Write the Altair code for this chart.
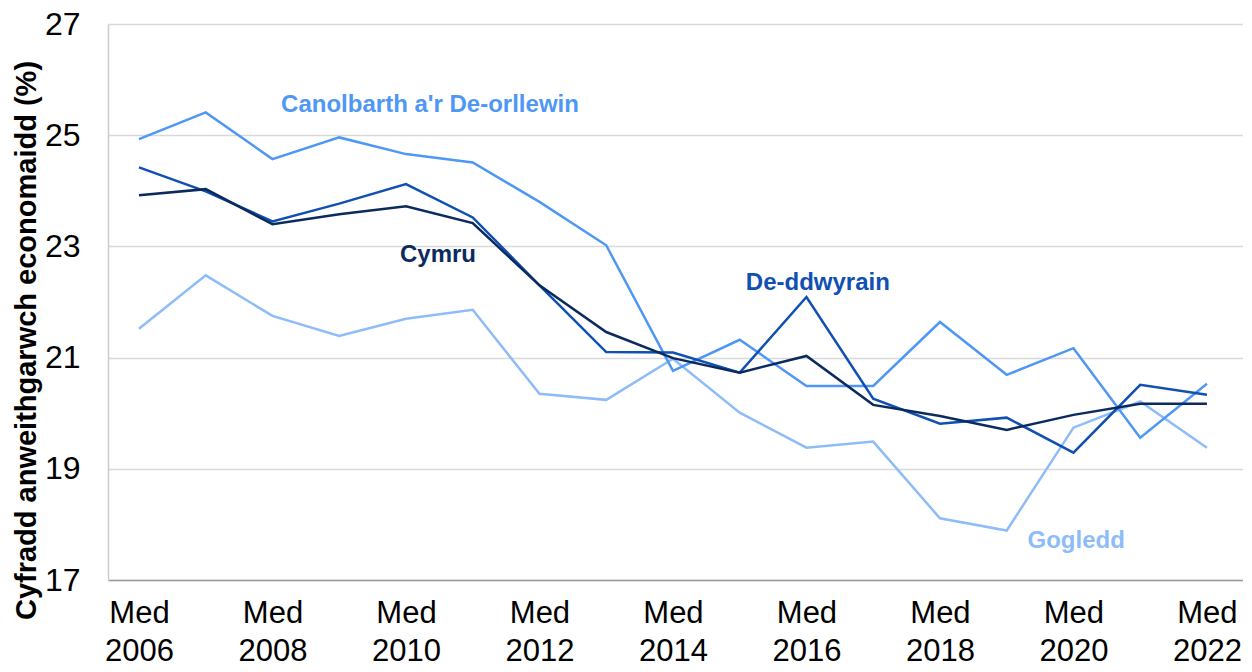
import altair as alt
import pandas as pd

years = list(range(2006, 2023))
canolbarth = [24.93, 25.41, 24.57, 24.96, 24.66, 24.51, 23.80, 23.02, 20.76, 21.32, 20.49, 20.49, 21.64, 20.69, 21.17, 19.56, 20.53]
gogledd = [21.52, 22.48, 21.75, 21.39, 21.70, 21.86, 20.35, 20.24, 20.98, 20.01, 19.38, 19.49, 18.11, 17.89, 19.74, 20.21, 19.38]
deddwyrain = [24.42, 23.99, 23.45, 23.77, 24.12, 23.52, 22.30, 21.10, 21.09, 20.73, 22.09, 20.26, 19.81, 19.92, 19.29, 20.51, 20.33]
cymru = [23.92, 24.03, 23.40, 23.58, 23.72, 23.42, 22.30, 21.46, 20.99, 20.73, 21.03, 20.15, 19.95, 19.70, 19.97, 20.17, 20.17]

series_names = ["Gogledd", "Canolbarth a'r De-orllewin", "De-ddwyrain", "Cymru"]
series_vals = [gogledd, canolbarth, deddwyrain, cymru]
series_colors = ["#8ebcf8", "#4f97f5", "#1050b2", "#0b2a5e"]

label_text = ["Canolbarth a'r De-orllewin", "Cymru", "De-ddwyrain", "Gogledd"]
label_x = [2010.36, 2010.48, 2016.17, 2020.04]
label_y = [25.54, 22.84, 22.34, 17.71]

rows = []
for name, vals in zip(series_names, series_vals):
    for yr, v in zip(years, vals):
        rows.append({"year": yr, "value": v, "series": name})
df = pd.DataFrame(rows)

lab = pd.DataFrame({"text": label_text, "x": label_x, "y": label_y, "series": label_text})

xscale = alt.Scale(domain=[2005.536, 2022.54], nice=False, zero=False)
yscale = alt.Scale(domain=[17, 27], nice=False, zero=False)
color = alt.Color("series:N", scale=alt.Scale(domain=series_names, range=series_colors), legend=None)

lines = alt.Chart(df).mark_line(strokeWidth=2.5).encode(
    x=alt.X("year:Q", scale=xscale,
            axis=alt.Axis(values=list(range(2006, 2023, 2)), labelExpr="['Med', datum.value]",
                          title=None, grid=False, ticks=False, domainColor="#9a9a9a", domainWidth=1.5,
                          labelFontSize=31, labelFont="Liberation Sans", labelColor="#000000",
                          labelPadding=18, labelLineHeight=38, labelFlush=False, labelOverlap=False)),
    y=alt.Y("value:Q", scale=yscale,
            axis=alt.Axis(values=[17, 19, 21, 23, 25, 27], title="Cyfradd anweithgarwch economaidd (%)",
                          grid=True, gridColor="#d9d9d9", gridWidth=1.5, ticks=False,
                          domainColor="#cccccc", domainWidth=1.5,
                          labelFontSize=32, labelFont="Liberation Sans", labelColor="#000000",
                          labelPadding=28, titleFontSize=29, titleFont="Liberation Sans",
                          titleFontWeight="bold", titleColor="#000000",
                          titleX=-82, titleY=316, titleAngle=270, titleAlign="center",
                          titleBaseline="middle")),
    color=color,
    detail="series:N",
)

texts = alt.Chart(lab).mark_text(font="Liberation Sans", fontSize=24, fontWeight="bold").encode(
    x=alt.X("x:Q", scale=xscale),
    y=alt.Y("y:Q", scale=yscale),
    text="text:N",
    color=color,
)

chart = alt.layer(lines, texts).properties(
    width=1135, height=556,
    autosize=alt.AutoSizeParams(type="none"),
    padding={"left": 100, "top": 16, "right": 0, "bottom": 90},
).configure_view(stroke=None)

chart.save("out.html", embed_options={"renderer": "svg", "actions": False})
